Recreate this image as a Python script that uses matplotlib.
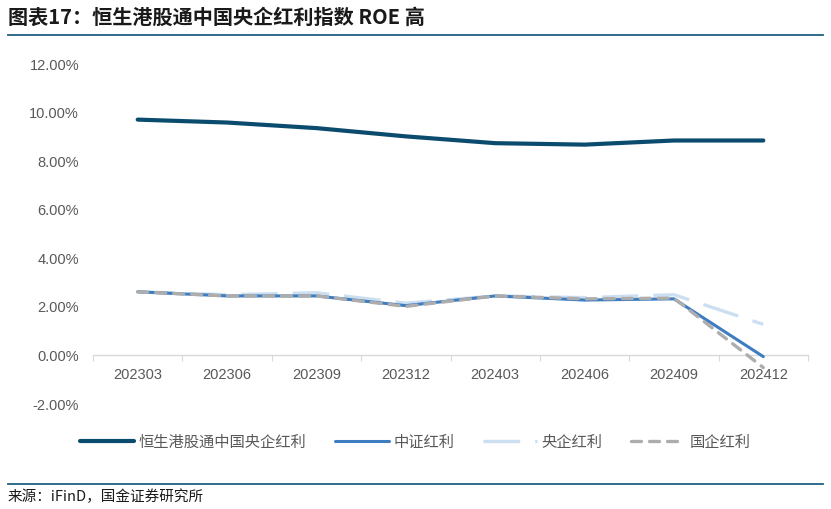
import matplotlib.pyplot as plt
from matplotlib.lines import Line2D
import numpy as np

plt.rcParams['font.family'] = ['Liberation Sans', 'Noto Sans CJK SC', 'DejaVu Sans']

periods = ['202303', '202306', '202309', '202312', '202403', '202406', '202409', '202412']
hs_soe = [9.71, 9.59, 9.36, 9.02, 8.74, 8.68, 8.85, 8.85]      # 恒生港股通中国央企红利
csi_div = [2.62, 2.45, 2.45, 2.05, 2.45, 2.28, 2.33, -0.05]    # 中证红利
central_soe = [2.62, 2.50, 2.58, 2.15, 2.45, 2.38, 2.50, 1.28]  # 央企红利
state_soe = [2.62, 2.45, 2.45, 2.02, 2.45, 2.33, 2.36, -0.50]   # 国企红利
y_ticks = [-2, 0, 2, 4, 6, 8, 10, 12]

cjk = ['Noto Sans CJK SC', 'DejaVu Sans']

fig = plt.figure(figsize=(8.31, 5.09), dpi=100)
ax = fig.add_axes([93 / 831, 1 - 404 / 509, 715 / 831, 340 / 509])

x = np.arange(len(periods))
ax.plot(x, hs_soe, color='#0B4C6E', lw=3.0, solid_capstyle='round', zorder=4, label='恒生港股通中国央企红利')
ax.plot(x, central_soe, color='#CCDFF1', lw=2.4, dashes=(11, 4.5), zorder=2, label='央企红利')
ax.plot(x, csi_div, color='#3D7DC2', lw=2.2, solid_capstyle='round', zorder=3, label='中证红利')
ax.plot(x, state_soe, color='#ADADAD', lw=2.4, dashes=(3, 2.4), dash_capstyle='round', zorder=5, label='国企红利')

ax.set_xlim(-0.5, len(periods) - 0.5)
ax.set_ylim(-2, 12)
ax.set_yticks(y_ticks)
ax.set_yticklabels([f'{v:.2f}%' for v in y_ticks])

ax.spines['bottom'].set_position(('data', 0))
ax.spines['bottom'].set_color('#D9D9D9')
ax.spines['bottom'].set_linewidth(1.0)
for s in ['top', 'right', 'left']:
    ax.spines[s].set_visible(False)

ax.set_xticks(np.arange(-0.5, len(periods)), minor=False)
ax.set_xticklabels([])
ax.set_xticks(x, minor=True)
ax.set_xticklabels(periods, minor=True)
ax.tick_params(axis='x', which='major', length=4, color='#D9D9D9', direction='out')
ax.tick_params(axis='x', which='minor', length=0, pad=9, labelsize=10.5, labelcolor='#595959')
ax.tick_params(axis='y', length=0, pad=10, labelsize=10.5, labelcolor='#595959')

order = ['恒生港股通中国央企红利', '中证红利', '央企红利', '国企红利']
h, l = ax.get_legend_handles_labels()
hd = dict(zip(l, h))
fig.legend([hd[k] for k in order], order, loc='center', bbox_to_anchor=(0.5, 1 - 442 / 509),
           ncol=4, frameon=False, handlelength=3.5, columnspacing=1.9,
           handletextpad=0.3, labelcolor='#595959', prop={'family': cjk, 'size': 11})

fig.text(8 / 831, 1 - 17 / 509, '图表17：恒生港股通中国央企红利指数 ROE 高', fontsize=14.5,
         fontweight='bold', color='#1A1A1A', va='center', ha='left', family=cjk)
fig.add_artist(Line2D([8 / 831, 823 / 831], [1 - 35 / 509] * 2, color='#1F5F82', lw=1.3))
fig.add_artist(Line2D([8 / 831, 823 / 831], [1 - 484 / 509] * 2, color='#1F5F82', lw=1.3))
fig.text(8 / 831, 1 - 497 / 509, '来源：iFinD，国金证券研究所', fontsize=10.5,
         color='#1A1A1A', va='center', ha='left', family=cjk)

fig.savefig('out.png', dpi=100)
